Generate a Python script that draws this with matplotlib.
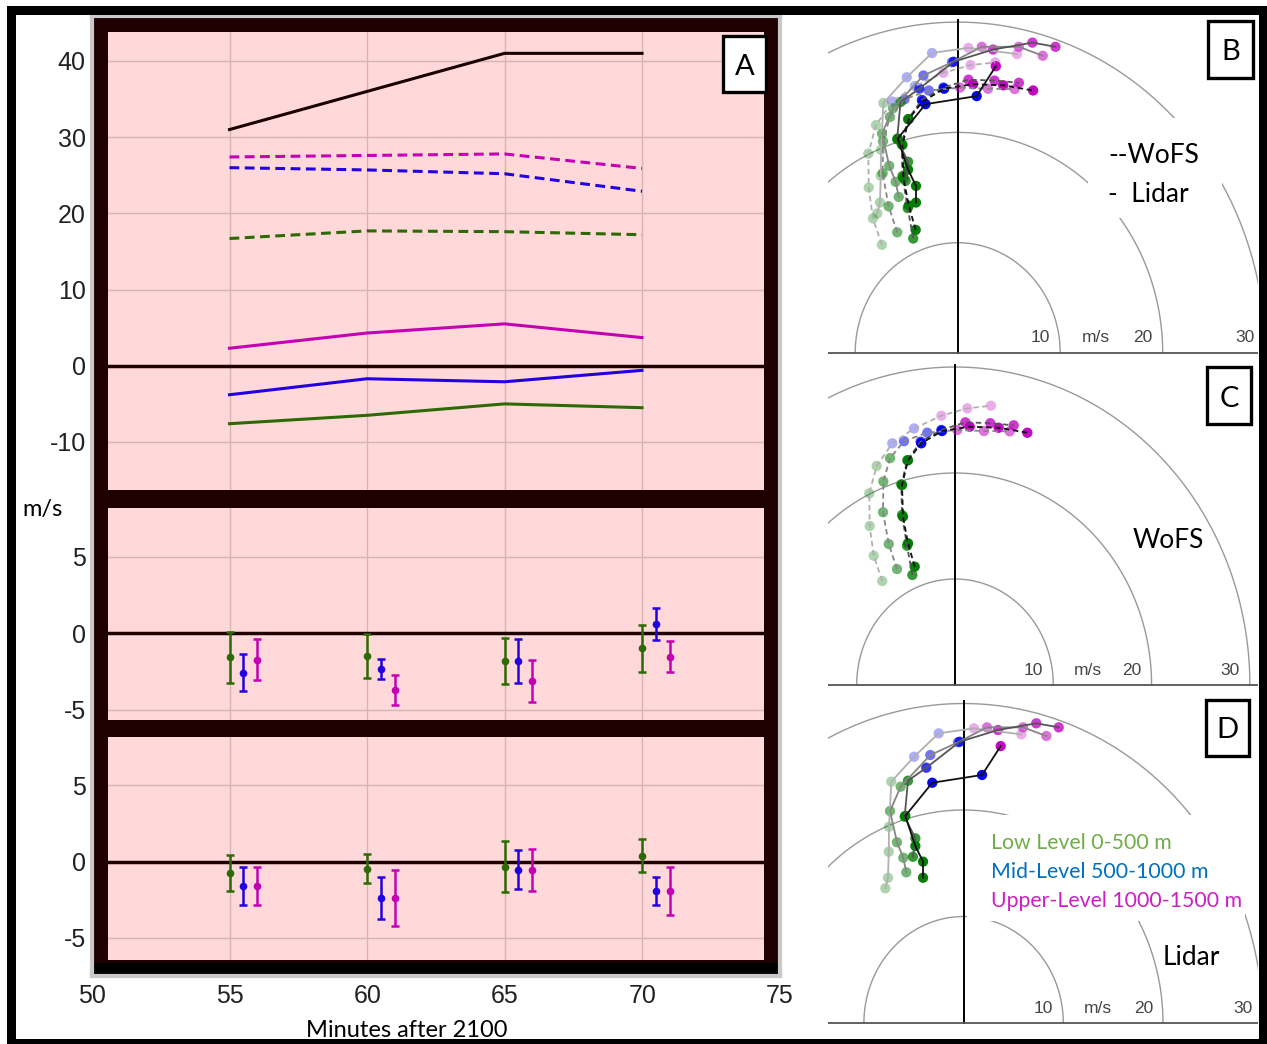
import numpy as np
import matplotlib
matplotlib.use('Agg')
import matplotlib.pyplot as plt
from matplotlib.patches import Rectangle

plt.rcParams['font.family'] = ['Liberation Sans', 'DejaVu Sans']
plt.rcParams['axes.unicode_minus'] = False

W, H = 1267, 1044

# ── Panel A : time series (minutes after 2100) ─────────────────
minutes = [55, 60, 65, 70]
shear_total = [31.0, 36.0, 41.0, 41.0]
wofs_upper = [27.4, 27.6, 27.8, 25.9]
wofs_mid = [26.0, 25.7, 25.2, 22.9]
wofs_low = [16.7, 17.7, 17.6, 17.2]
lidar_upper = [2.3, 4.3, 5.5, 3.7]
lidar_mid = [-3.8, -1.7, -2.1, -0.6]
lidar_low = [-7.6, -6.5, -5.0, -5.5]

# ── WoFS - lidar differences, u then v (mean and spread) ───────
du_low = [-1.56, -1.47, -1.81, -0.99]
du_low_err = [1.67, 1.45, 1.50, 1.53]
du_mid = [-2.57, -2.34, -1.81, 0.60]
du_mid_err = [1.20, 0.67, 1.45, 1.03]
du_up = [-1.72, -3.72, -3.10, -1.54]
du_up_err = [1.34, 1.00, 1.37, 1.00]

dv_low = [-0.76, -0.46, -0.34, 0.39]
dv_low_err = [1.18, 0.95, 1.67, 1.09]
dv_mid = [-1.59, -2.39, -0.55, -1.93]
dv_mid_err = [1.24, 1.39, 1.28, 0.94]
dv_up = [-1.59, -2.39, -0.55, -1.93]
dv_up_err = [1.26, 1.85, 1.40, 1.55]

# ── Hodographs (u, v in m/s), one trace per time ───────────────
# level code: L = 0-500 m, M = 500-1000 m, U = 1000-1500 m
wofs_u = [
    [-7.4, -8.27, -8.68, -8.72, -7.97, -6.38, -4.17, -1.39, 1.25, 3.66],
    [-5.9, -6.74, -7.32, -7.29, -6.61, -5.19, -2.82, 0.23, 2.95, 5.56],
    [-4.34, -4.88, -5.39, -5.46, -4.85, -3.49, -1.39, 1.05, 3.59, 5.97],
    [-4.1, -4.78, -5.29, -5.39, -4.78, -3.43, -1.32, 1.5, 4.44, 7.36],
]
wofs_v = [
    [9.81, 12.2, 15.0, 18.08, 20.66, 22.8, 24.2, 25.4, 26.1, 26.35],
    [10.94, 13.3, 16.3, 19.2, 21.4, 23.0, 23.8, 24.06, 23.96, 23.93],
    [10.38, 13.14, 16.04, 18.93, 21.2, 22.95, 24.06, 24.78, 24.7, 24.5],
    [11.16, 13.37, 15.88, 18.87, 21.2, 22.8, 23.96, 24.37, 24.27, 23.8],
]
wofs_lvl = ['LLLLLMMUUU', 'LLLLLMMUUU', 'LLLLLMMUUU', 'LLLLLMMUUU']

lidar_u = [
    [-7.85, -7.58, -7.51, -7.48, -7.25, -4.97, -2.5, 1.04, 5.79],
    [-5.75, -6.05, -6.68, -7.38, -6.31, -3.34, -0.56, 2.35, 5.96, 8.3],
    [-5.08, -4.84, -5.91, -5.58, -3.74, -0.39, 3.45, 7.29, 9.54],
    [-4.07, -4.07, -4.84, -5.85, -3.14, 1.85, 3.72],
]
lidar_v = [
    [12.65, 13.64, 16.08, 18.43, 22.66, 25.0, 27.2, 27.67, 27.1],
    [14.15, 15.52, 16.97, 19.9, 22.19, 25.16, 26.36, 27.76, 27.76, 26.95],
    [15.61, 17.34, 19.37, 22.75, 23.97, 26.41, 27.51, 28.14, 27.76],
    [13.64, 15.15, 16.62, 19.44, 22.56, 23.29, 26.0],
]
lidar_lvl = ['LLLLLMMUU', 'LLLLLMMUUU', 'LLLLMMUUU', 'LLLLMMU']

ring_speeds = [10, 20, 30]

# ── style ──────────────────────────────────────────────────────
PINK = '#ffd9d9'
MAROON = '#1f0000'
GRID = '#d6b4b4'
C_LOW, C_MID, C_UP = '#2b6a04', '#2300e0', '#c400b4'
LEVEL_COLORS = {'L': '#007a00', 'M': '#0000f0', 'U': '#bf00bf'}
TRACE_ALPHA = [0.32, 0.55, 0.78, 0.97]
TRACE_GRAY = ['#b0b0b0', '#868686', '#555555', '#111111']
TXT = 'Lato'

fig = plt.figure(figsize=(W / 100, H / 100), dpi=100)


def fx(x):
    return x / W


def fy(y):
    return 1 - y / H


def px_axes(x0, y0, x1, y1, **kw):
    return fig.add_axes([fx(x0), fy(y1), (x1 - x0) / W, (y1 - y0) / H], **kw)


def px_rect(x0, y0, x1, y1, **kw):
    return Rectangle((fx(x0), fy(y1)), (x1 - x0) / W, (y1 - y0) / H,
                     transform=fig.transFigure, **kw)


# ── outer black border ─────────────────────────────────────────
for r in [(7, 6, 16, 1044), (7, 6, 1267, 15), (1259, 6, 1267, 1044),
          (7, 1039, 1267, 1044)]:
    fig.add_artist(px_rect(*r, facecolor='black', edgecolor='none', zorder=1))

# ── left frame (time axis 50..75 over x = 92..780 px) ──────────
X0_PX, PX_PER_MIN = 92, 27.5
frame = px_axes(92, 15.5, 780, 976)
frame.set_facecolor(MAROON)
frame.set_xlim(50, 75)
frame.set_xticks([50, 55, 60, 65, 70, 75])
frame.set_yticks([])
frame.tick_params(axis='x', length=0, pad=6, labelsize=18, labelcolor='#222222')
for s in frame.spines.values():
    s.set_color('#c9c9c9')
    s.set_linewidth(3)
frame.add_patch(px_rect(93, 963, 779, 974, facecolor='black', edgecolor='none'))

strip_xlim = (50 + (108 - X0_PX) / PX_PER_MIN, 50 + (764 - X0_PX) / PX_PER_MIN)


def strip(y0, y1, ylim, yticks):
    ax = px_axes(108, y0, 764, y1)
    ax.set_facecolor(PINK)
    ax.set_xlim(*strip_xlim)
    ax.set_ylim(*ylim)
    ax.set_xticks(minutes)
    ax.set_xticklabels([])
    ax.set_yticks(yticks)
    ax.set_yticklabels([f'{t:d}' for t in yticks])
    ax.grid(True, color=GRID, lw=1.0)
    ax.set_axisbelow(True)
    ax.axhline(0, color=MAROON, lw=2.5, zorder=2)
    for s in ax.spines.values():
        s.set_visible(False)
    ax.tick_params(length=0, labelsize=18, labelcolor='#222222')
    ax.tick_params(axis='y', pad=16)
    return ax


axA = strip(32, 490, (-16.3, 43.8), [-10, 0, 10, 20, 30, 40])
dash = (0, (3.2, 1.8))
axA.plot(minutes, shear_total, color='#1a0000', lw=2.2, zorder=3)
axA.plot(minutes, wofs_upper, color=C_UP, lw=2.2, ls=dash, zorder=3)
axA.plot(minutes, wofs_mid, color=C_MID, lw=2.2, ls=dash, zorder=3)
axA.plot(minutes, wofs_low, color=C_LOW, lw=2.2, ls=dash, zorder=3)
axA.plot(minutes, lidar_upper, color=C_UP, lw=2.2, zorder=3)
axA.plot(minutes, lidar_mid, color=C_MID, lw=2.2, zorder=3)
axA.plot(minutes, lidar_low, color=C_LOW, lw=2.2, zorder=3)

axU = strip(508, 720, (-5.67, 8.18), [-5, 0, 5])
axV = strip(737, 960, (-6.45, 8.16), [-5, 0, 5])

t = np.array(minutes, dtype=float)
for ax, series in [(axU, [(du_low, du_low_err), (du_mid, du_mid_err), (du_up, du_up_err)]),
                   (axV, [(dv_low, dv_low_err), (dv_mid, dv_mid_err), (dv_up, dv_up_err)])]:
    for k, ((m, e), c) in enumerate(zip(series, [C_LOW, C_MID, C_UP])):
        ax.errorbar(t + 0.5 * k, m, yerr=e, fmt='o', color=c, ms=4.5,
                    lw=1.8, capsize=3.2, capthick=1.8, zorder=4)

fig.text(fx(22), fy(516), 'm/s', family=TXT, fontsize=17, va='baseline')
fig.text(fx(407), fy(1037), 'Minutes after 2100', family=TXT, fontsize=17,
         ha='center', va='baseline')


def letter_box(x0, y0, x1, y1, letter, base):
    fig.add_artist(px_rect(x0, y0, x1, y1, facecolor='white', edgecolor='black',
                           lw=2.4, zorder=5))
    fig.text(fx((x0 + x1) / 2), fy(base), letter, family=TXT, fontsize=21,
             ha='center', va='baseline', zorder=6)


letter_box(723, 36, 766, 92, 'A', 75)


# ── hodographs ─────────────────────────────────────────────────
def hodograph(x0, y0, x1, y1, ox, oy, sx, sy):
    ax = px_axes(x0, y0, x1, y1)
    ax.set_xlim((x0 - ox) / sx, (x1 - ox) / sx)
    ax.set_ylim((oy - y1) / sy, (oy - y0) / sy)
    ax.axis('off')
    th = np.linspace(0, np.pi, 300)
    for r in ring_speeds:
        ax.plot(r * np.cos(th), r * np.sin(th), color='#999999', lw=1.0, zorder=1)
        ax.text(r - 1.0, 1.4, f'{r}', ha='right', va='center', fontsize=12.5,
                color='#444444', zorder=1)
    ax.text(13.5, 1.4, 'm/s', ha='center', va='center', fontsize=12.5,
            color='#444444', zorder=1)
    ax.plot([0, 0], [0, 30.2], color='black', lw=1.4, zorder=2)
    ax.axhline(0, color='#555555', lw=1.3, zorder=2)
    return ax


def draw_traces(ax, us, vs, lvls, ls):
    for i, (u, v, lvl) in enumerate(zip(us, vs, lvls)):
        cols = [LEVEL_COLORS[c] for c in lvl]
        ax.scatter(u, v, c=cols, s=55, alpha=TRACE_ALPHA[i], edgecolors='none', zorder=3)
        ax.plot(u, v, color=TRACE_GRAY[i], ls=ls, lw=1.3, zorder=4)


wofs_ls = (0, (3, 2))

axB = hodograph(828, 15, 1258, 355, 957.7, 353, 10.25, 11.03)
draw_traces(axB, wofs_u, wofs_v, wofs_lvl, wofs_ls)
draw_traces(axB, lidar_u, lidar_v, lidar_lvl, '-')

axC = hodograph(828, 356, 1258, 687, 955, 685, 9.83, 10.6)
draw_traces(axC, wofs_u, wofs_v, wofs_lvl, wofs_ls)

axD = hodograph(828, 689, 1258, 1025, 963.6, 1023, 9.97, 10.65)
draw_traces(axD, lidar_u, lidar_v, lidar_lvl, '-')

# text panels sitting over the rings
fig.add_artist(px_rect(1088, 118, 1222, 218, facecolor='white', edgecolor='none', zorder=1))
fig.add_artist(px_rect(967, 815, 1245, 921, facecolor='white', edgecolor='none', zorder=1))

fig.text(fx(1108), fy(163), '--WoFS', family=TXT, fontsize=19, va='baseline', zorder=3)
fig.text(fx(1108), fy(202), '-  Lidar', family=TXT, fontsize=19, va='baseline', zorder=3)
fig.text(fx(1133), fy(548), 'WoFS', family=TXT, fontsize=19, va='baseline', zorder=3)
fig.text(fx(1163), fy(965), 'Lidar', family=TXT, fontsize=19, va='baseline', zorder=3)
fig.text(fx(991), fy(849), 'Low Level 0-500 m', family=TXT, fontsize=15.3,
         color='#70ad47', va='baseline', zorder=3)
fig.text(fx(991), fy(878), 'Mid-Level 500-1000 m', family=TXT, fontsize=15.3,
         color='#0070c0', va='baseline', zorder=3)
fig.text(fx(991), fy(907), 'Upper-Level 1000-1500 m', family=TXT, fontsize=15.3,
         color='#cc1fc4', va='baseline', zorder=3)

letter_box(1208, 21, 1253, 78, 'B', 60)
letter_box(1207, 367, 1251, 424, 'C', 407)
letter_box(1206, 700, 1249, 756, 'D', 738)

fig.savefig('out.png', dpi=100)
